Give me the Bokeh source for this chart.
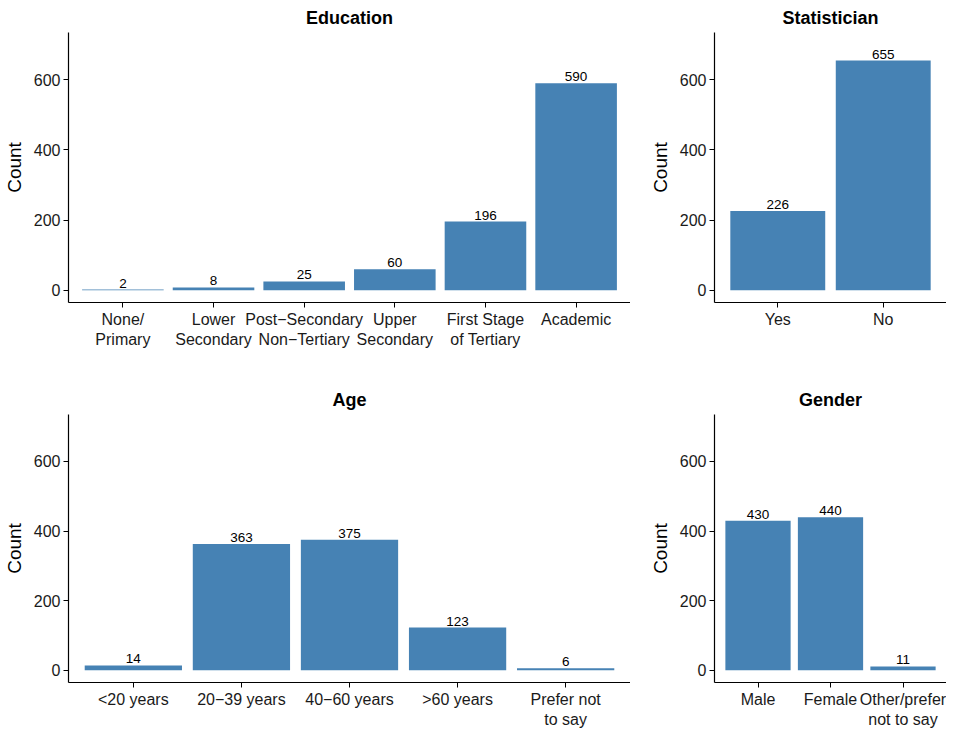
from bokeh.plotting import figure
from bokeh.layouts import column, row
from bokeh.models import Range1d, FixedTicker, ColumnDataSource
from bokeh.core.properties import value
from bokeh.embed import file_html
from bokeh.resources import INLINE

edu_labels = ["None/\nPrimary", "Lower\nSecondary", "Post\u2212Secondary\nNon\u2212Tertiary",
              "Upper\nSecondary", "First Stage\nof Tertiary", "Academic"]
edu_counts = [2, 8, 25, 60, 196, 590]
stat_labels = ["Yes", "No"]
stat_counts = [226, 655]
age_labels = ["<20 years", "20\u221239 years", "40\u221260 years", ">60 years", "Prefer not\nto say"]
age_counts = [14, 363, 375, 123, 6]
gender_labels = ["Male", "Female", "Other/prefer\nnot to say"]
gender_counts = [430, 440, 11]
y_ticks = [0, 200, 400, 600]

FONT = "Liberation Sans"
BAR = "#4682B4"


def panel(title, labels, counts, fw, fh, left, right, top, bottom):
    n = len(labels)
    pos = list(range(1, n + 1))
    p = figure(frame_width=fw, frame_height=fh, output_backend="svg", toolbar_location=None,
               x_range=Range1d(0.4, n + 0.6), y_range=Range1d(-35, 735),
               min_border_left=left, min_border_right=right,
               min_border_top=top, min_border_bottom=bottom,
               title=title)
    p.title.text = title
    p.title.align = "center"
    p.title.text_font = FONT
    p.title.text_font_size = "18px"
    p.title.text_font_style = "bold"
    p.title.text_color = "black"
    p.outline_line_color = None
    p.xgrid.visible = False
    p.ygrid.visible = False
    src = ColumnDataSource(dict(x=pos, top=counts, lab=[str(c) for c in counts]))
    p.vbar(x="x", top="top", bottom=0, width=0.9, source=src, fill_color=BAR, line_color=None)
    p.text(x="x", y="top", text="lab", source=src, text_align="center", text_baseline="bottom",
           y_offset=-2, text_font=value(FONT), text_font_size="13.5px", text_color="black")
    xa = p.xaxis[0]
    xa.ticker = FixedTicker(ticks=pos)
    xa.major_label_overrides = {i: l for i, l in zip(pos, labels)}
    ya = p.yaxis[0]
    ya.ticker = FixedTicker(ticks=y_ticks)
    ya.axis_label = "Count"
    for ax in (xa, ya):
        ax.minor_tick_line_color = None
        ax.major_tick_in = 0
        ax.major_tick_out = 5
        ax.axis_line_color = "black"
        ax.axis_line_width = 1.2
        ax.major_tick_line_color = "black"
        ax.major_label_text_font = FONT
        ax.major_label_text_font_size = "16px"
        ax.major_label_text_color = "#1a1a1a"
        ax.major_label_standoff = 3
        ax.axis_label_text_font = FONT
        ax.axis_label_text_font_size = "19px"
        ax.axis_label_text_font_style = "normal"
        ax.axis_label_text_color = "black"
        ax.axis_label_standoff = 6
    return p


p1 = panel("Education", edu_labels, edu_counts, 562, 270, 62, 0, 30, 48)
p2 = panel("Statistician", stat_labels, stat_counts, 232, 270, 84, 0, 30, 48)
p3 = panel("Age", age_labels, age_counts, 562, 268, 62, 0, 64, 41)
p4 = panel("Gender", gender_labels, gender_counts, 232, 268, 84, 0, 64, 41)

layout = column(row(p1, p2, spacing=0), row(p3, p4, spacing=0), spacing=0)
open("out.html", "w").write(file_html(layout, INLINE))
